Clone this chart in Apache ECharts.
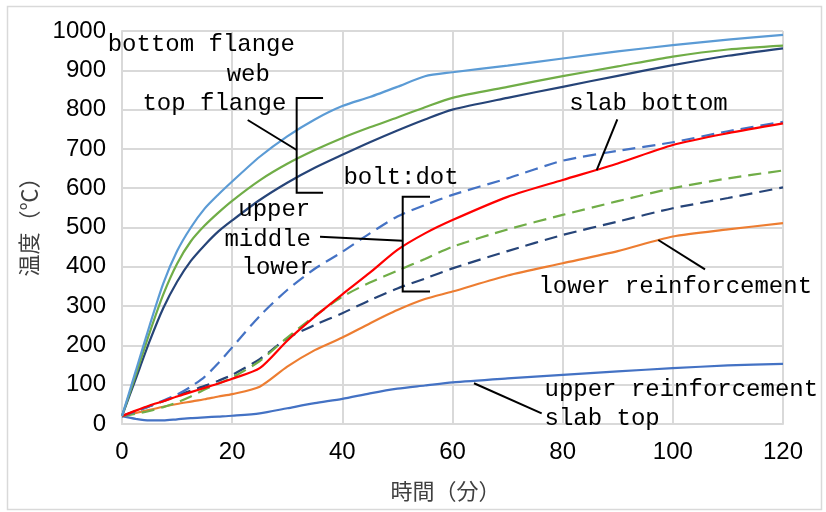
<!DOCTYPE html>
<html>
<head>
<meta charset="utf-8">
<script src="https://cdn.jsdelivr.net/npm/echarts@6/dist/echarts.min.js"></script>
<style>
html,body{margin:0;padding:0;background:#fff;}
#c{width:826px;height:512px;}
</style>
</head>
<body>
<div id="c"></div>
<script>
// ---- data ----
const times        = [0,2.5,5,7.5,10,12.5,15,17.5,20,25,30,35,40,45,50,55,60,70,80,90,100,110,120];
const bottomFlange = [20,135,250,358,440,500,548,584,617,680,732,775,809,832,858,885,895,912,930,948,964,978,990];
const web          = [20,125,232,330,408,465,505,538,568,620,662,697,728,755,780,806,830,858,885,910,935,953,963];
const topFlange    = [20,115,210,295,362,415,455,490,518,570,614,652,685,717,747,775,800,830,858,886,913,937,956];
const boltUpper    = [20,32,45,60,75,95,120,155,195,275,341,395,438,485,528,557,583,625,670,695,717,745,769];
const boltMiddle   = [20,26,33,43,55,70,88,103,118,160,220,275,324,360,390,420,451,495,532,567,600,625,645];
const boltLower    = [20,33,45,58,72,85,97,110,125,165,218,252,282,315,345,370,396,440,481,515,549,575,602];
const slabBottom   = [20,34,47,58,70,81,92,103,115,142,212,273,330,385,443,485,519,578,621,663,710,740,765];
const lowerReinf   = [20,28,36,44,51,57,63,70,76,95,146,188,220,256,290,318,337,378,409,440,477,495,511];
const upperReinf   = [20,13,9,9,12,15,17,19,21,27,40,53,64,78,90,98,106,116,125,134,142,149,153];

const xName = '時間（分）';
const yName = '温度（℃）';

// annotation texts [text, time, temperature] (data coordinates)
const annoTexts = [
  ['bottom flange', -2.6, 966],
  ['web', 19.0, 888],
  ['top flange', 3.7, 814],
  ['bolt:dot', 40.2, 628],
  ['upper', 21.1, 545],
  ['middle', 18.6, 468],
  ['lower', 21.7, 399],
  ['slab bottom', 81.2, 814],
  ['lower reinforcement', 75.6, 349],
  ['upper reinforcement', 76.7, 86.5],
  ['slab top', 76.7, 12.7]
];
// annotation leader lines / brackets (data coordinates)
const annoLines = [
  [[36.5,829.5],[31.71,829.5],[31.71,588.5],[36.5,588.5]],
  [[22.82,773.5],[31.71,697.2]],
  [[55.92,578.4],[50.96,578.4],[50.96,337.2],[55.92,337.2]],
  [[35.95,476.6],[50.96,466.4]],
  [[89.92,775.3],[86.18,646.3]],
  [[97.36,468.2],[105.84,393.6]],
  [[63.90,103.6],[76.19,27.2]]
];

function pairs(vals){ return times.map((t,i)=>[t, vals[i]]); }

function mk(name, vals, color, dashed){
  return {
    name: name, type: 'line', data: pairs(vals), smooth: 0.25,
    symbol: 'none', silent: true,
    lineStyle: {color: color, width: 2.2, type: dashed ? [13,7] : 'solid'},
    itemStyle: {color: color}
  };
}

const chart = echarts.init(document.getElementById('c'));
const gridColor = '#D9D9D9';
chart.setOption({
  animation: false,
  backgroundColor: '#fff',
  grid: {left: 122, right: 43, top: 31, bottom: 88, containLabel: false},
  xAxis: {
    type: 'value', min: 0, max: 120, interval: 20,
    name: xName, nameLocation: 'middle', nameGap: 56,
    nameTextStyle: {fontFamily: '"Noto Sans CJK JP"', fontSize: 22, color: '#404040', padding: [0, 14, 0, 0]},
    axisLine: {show: true, lineStyle: {color: gridColor, width: 2}},
    axisTick: {show: false},
    axisLabel: {fontFamily: '"Liberation Sans", Arial', fontSize: 24, color: '#000', margin: 16,
                formatter: v => String(v)},
    splitLine: {show: true, lineStyle: {color: gridColor, width: 2}}
  },
  yAxis: {
    type: 'value', min: 0, max: 1000, interval: 100,
    name: yName, nameLocation: 'middle', nameGap: 82, nameRotate: 90,
    nameTextStyle: {fontFamily: '"Noto Sans CJK JP"', fontSize: 22, color: '#404040', padding: [0, 0, 0, 12]},
    axisLine: {show: true, lineStyle: {color: gridColor, width: 2}},
    axisTick: {show: false},
    axisLabel: {fontFamily: '"Liberation Sans", Arial', fontSize: 24, color: '#000', margin: 16,
                formatter: v => String(v)},
    splitLine: {show: true, lineStyle: {color: gridColor, width: 2}}
  },
  series: [
    mk('upper reinforcement / slab top', upperReinf, '#4472C4', false),
    mk('lower reinforcement', lowerReinf, '#ED7D31', false),
    mk('bolt lower', boltLower, '#264478', true),
    mk('bolt middle', boltMiddle, '#70AD47', true),
    mk('bolt upper', boltUpper, '#4472C4', true),
    mk('slab bottom', slabBottom, '#FF0000', false),
    mk('top flange', topFlange, '#264478', false),
    mk('web', web, '#70AD47', false),
    mk('bottom flange', bottomFlange, '#5B9BD5', false)
  ]
});

const px = p => chart.convertToPixel({gridIndex: 0}, p);
const graphics = [{
  type: 'rect', silent: true,
  shape: {x: 7.5, y: 6.5, width: 814, height: 503},
  style: {fill: 'none', stroke: gridColor, lineWidth: 1.5}
}];
annoLines.forEach(pts => {
  graphics.push({
    type: 'polyline', silent: true, z: 100,
    shape: {points: pts.map(px)},
    style: {stroke: '#000', lineWidth: 2, fill: 'none'}
  });
});
annoTexts.forEach(a => {
  const p = px([a[1], a[2]]);
  graphics.push({
    type: 'text', silent: true, z: 100, x: p[0], y: p[1],
    style: {text: a[0], fontFamily: '"Liberation Mono", monospace', fontSize: 24,
            fill: '#000', align: 'left', verticalAlign: 'middle'}
  });
});
chart.setOption({graphic: graphics});
</script>
</body>
</html>
